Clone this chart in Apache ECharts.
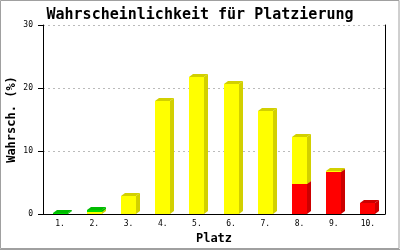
<!DOCTYPE html>
<html>
<head>
<meta charset="utf-8">
<script src="https://cdn.jsdelivr.net/npm/echarts@6/dist/echarts.min.js"></script>
<style>html,body{margin:0;padding:0;background:#fff;}#c{width:400px;height:250px;}</style>
</head>
<body>
<div id="c"></div>
<script>
var categories = ['1.', '2.', '3.', '4.', '5.', '6.', '7.', '8.', '9.', '10.'];
var redValues = [0, 0, 0, 0, 0, 0, 0, 4.8, 6.6, 1.7];
var yellowValues = [0, 0.3, 2.8, 18.0, 21.7, 20.7, 16.3, 7.4, 0.3, 0];
var greenValues = [0.1, 0.35, 0, 0, 0, 0, 0, 0, 0, 0];
var yTicks = [0, 10, 20, 30];

function segData(values, bases) {
  var out = [];
  for (var i = 0; i < values.length; i++) {
    if (values[i] > 0) out.push([i, bases[i], bases[i] + values[i]]);
  }
  return out;
}
var zeros = categories.map(function () { return 0; });
var yellowBase = redValues.slice();
var greenBase = redValues.map(function (v, i) { return v + yellowValues[i]; });

function makeRender(face, dark) {
  return function (params, api) {
    var i = api.value(0), b = api.value(1), t = api.value(2);
    var p0 = api.coord([i, b]);
    var p1 = api.coord([i, t]);
    var w = 15, dx = 4, dy = 3;
    var left = Math.round(p0[0] - w / 2);
    var right = left + w;
    var yb = Math.round(p0[1]);
    var yt = Math.round(p1[1]);
    return {
      type: 'group',
      children: [
        { type: 'polygon', shape: { points: [[right, yt], [right + dx, yt - dy], [right + dx, yb - dy], [right, yb]] }, style: { fill: dark } },
        { type: 'polygon', shape: { points: [[left, yt], [left + dx, yt - dy], [right + dx, yt - dy], [right, yt]] }, style: { fill: dark } },
        { type: 'rect', shape: { x: left, y: yt, width: w, height: Math.max(yb - yt, 0) }, style: { fill: face } }
      ]
    };
  };
}

var mono = 'DejaVu Sans Mono';
var chart = echarts.init(document.getElementById('c'), null, { renderer: 'canvas' });
chart.setOption({
  animation: false,
  backgroundColor: '#ffffff',
  title: {
    text: 'Wahrscheinlichkeit für Platzierung',
    left: 'center',
    top: 3,
    textStyle: { fontFamily: mono, fontWeight: 'bold', fontSize: 15, color: '#000' }
  },
  grid: { left: 43, right: 15, top: 25, bottom: 36, containLabel: false, outerBoundsMode: 'none' },
  xAxis: {
    type: 'category',
    data: categories,
    name: 'Platz',
    nameLocation: 'middle',
    nameGap: 19,
    nameMoveOverlap: false,
    nameTextStyle: { fontFamily: mono, fontWeight: 'bold', fontSize: 12, color: '#000' },
    axisLine: { show: true, lineStyle: { color: '#000', width: 1 } },
    axisTick: { show: false },
    axisLabel: { fontFamily: mono, fontSize: 8, color: '#000', margin: 6, interval: 0 },
    splitLine: { show: false }
  },
  yAxis: [{
    type: 'value',
    min: yTicks[0],
    max: yTicks[yTicks.length - 1],
    interval: 10,
    name: 'Wahrsch. (%)',
    nameLocation: 'middle',
    nameGap: 25,
    nameMoveOverlap: false,
    nameTextStyle: { fontFamily: mono, fontWeight: 'bold', fontSize: 12, color: '#000' },
    axisLine: { show: true, lineStyle: { color: '#000', width: 1 } },
    axisTick: { show: true, length: 5, lineStyle: { color: '#000' } },
    axisLabel: { fontFamily: mono, fontSize: 8, color: '#000', margin: 10 },
    splitLine: { show: true, lineStyle: { color: '#bbbbbb', type: [2, 3], width: 1 } }
  }, {
    type: 'value',
    position: 'right',
    min: yTicks[0],
    max: yTicks[yTicks.length - 1],
    interval: 10,
    axisLine: { show: true, lineStyle: { color: '#000', width: 1 } },
    axisTick: { show: false },
    axisLabel: { show: false },
    splitLine: { show: false }
  }],
  series: [
    { type: 'custom', name: 'rot', renderItem: makeRender('#ff0000', '#cc0000'), data: segData(redValues, zeros), encode: { x: 0, y: [1, 2] } },
    { type: 'custom', name: 'gelb', renderItem: makeRender('#ffff00', '#d2d000'), data: segData(yellowValues, yellowBase), encode: { x: 0, y: [1, 2] } },
    { type: 'custom', name: 'grün', renderItem: makeRender('#00dd00', '#00bb00'), data: segData(greenValues, greenBase), encode: { x: 0, y: [1, 2] } }
  ],
  graphic: [
    { type: 'rect', shape: { x: 0.5, y: 0.5, width: 398.5, height: 248 }, style: { fill: 'none', stroke: '#a0a0a0', lineWidth: 1 }, silent: true },
    { type: 'line', shape: { x1: 0, y1: 249.5, x2: 400, y2: 249.5 }, style: { stroke: '#a0a0a0', lineWidth: 1 }, silent: true }
  ]
});
</script>
</body>
</html>
